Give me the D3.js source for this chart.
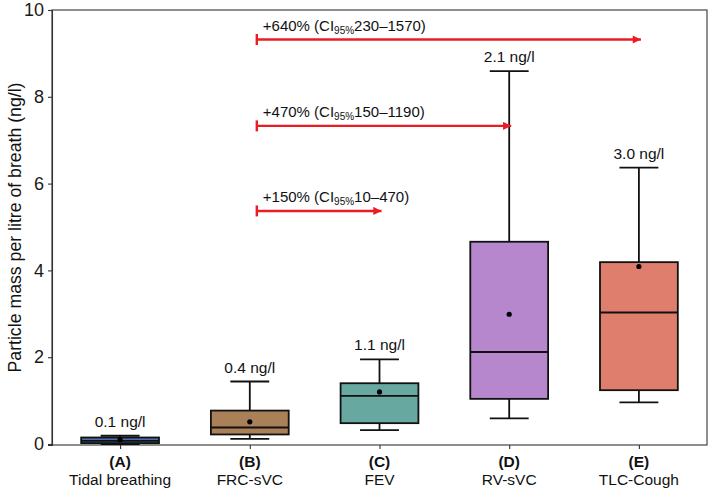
<!DOCTYPE html>
<html>
<head>
<meta charset="utf-8">
<script src="https://cdn.jsdelivr.net/npm/d3@7"></script>
<style>
  html, body { margin: 0; padding: 0; background: #fff; }
  svg { display: block; font-family: "Liberation Sans", Arial, sans-serif; }
</style>
</head>
<body>
<div id="chart"></div>
<script>
// ---- data ----
const categories = ["(A)", "(B)", "(C)", "(D)", "(E)"];
const categoryNames = ["Tidal breathing", "FRC-sVC", "FEV", "RV-sVC", "TLC-Cough"];
const whiskerLow = [0.00, 0.12, 0.32, 0.59, 0.96];
const q1 = [0.02, 0.22, 0.48, 1.04, 1.24];
const median = [0.07, 0.38, 1.11, 2.12, 3.03];
const q3 = [0.15, 0.77, 1.40, 4.66, 4.19];
const whiskerHigh = [0.19, 1.44, 1.95, 8.59, 6.37];
const means = [0.10, 0.51, 1.20, 2.99, 4.09];
const valueLabels = ["0.1 ng/l", "0.4 ng/l", "1.1 ng/l", "2.1 ng/l", "3.0 ng/l"];
const fills = ["#4a6ea8", "#a98057", "#67a9a1", "#b687cc", "#e07e6e"];
const yTicks = [0, 2, 4, 6, 8, 10];

const compFrom = 1;            // index of (B)
const compTo = [2, 3, 4];      // (C), (D), (E)
const compY = [5.37, 7.33, 9.32];
const compPct = ["+150%", "+470%", "+640%"];
const compCI = ["10\u2013470", "150\u20131190", "230\u20131570"];

// ---- layout ----
const W = 709, H = 491;
const pLeft = 52, pRight = 707, pTop = 10, pBottom = 445;

const svg = d3.select("#chart").append("svg")
  .attr("width", W).attr("height", H);

const x = d3.scaleLinear().domain([-0.525, categories.length - 1 + 0.525]).range([pLeft, pRight]);
const y = d3.scaleLinear().domain([-0.023, 10]).range([pBottom, pTop]);
const step = x(1) - x(0);
const boxW = step * 0.6;

// panel border
svg.append("rect")
  .attr("x", pLeft).attr("y", pTop)
  .attr("width", pRight - pLeft).attr("height", pBottom - pTop)
  .attr("fill", "none").attr("stroke", "#333").attr("stroke-width", 1.1);

// y axis
const yAxis = d3.axisLeft(y).tickValues(yTicks).tickSize(4).tickPadding(4).tickFormat(d3.format("d"));
const gy = svg.append("g").attr("transform", `translate(${pLeft},0)`).call(yAxis);
gy.select(".domain").attr("stroke", "#333").attr("stroke-width", 1.1);
gy.selectAll(".tick line").attr("stroke", "#333").attr("stroke-width", 1.1);
gy.selectAll(".tick text").attr("font-size", 18).attr("fill", "#1a1a1a")
  .attr("font-family", "Liberation Sans, Arial, sans-serif");

// x axis
const xAxis = d3.axisBottom(x).tickValues(d3.range(categories.length)).tickSize(4).tickFormat("");
const gx = svg.append("g").attr("transform", `translate(0,${pBottom})`).call(xAxis);
gx.select(".domain").remove();
gx.selectAll(".tick line").attr("stroke", "#333").attr("stroke-width", 1.1);

// x category labels
const xl = svg.append("g");
categories.forEach((c, i) => {
  xl.append("text").attr("x", x(i)).attr("y", 467)
    .attr("text-anchor", "middle").attr("font-size", 15.5).attr("font-weight", "bold")
    .attr("fill", "#111").text(c);
  xl.append("text").attr("x", x(i)).attr("y", 485)
    .attr("text-anchor", "middle").attr("font-size", 15.5)
    .attr("fill", "#111").text(categoryNames[i]);
});

// y title
svg.append("text")
  .attr("transform", `translate(21,${(pTop + pBottom) / 2}) rotate(-90)`)
  .attr("text-anchor", "middle").attr("font-size", 17.7).attr("fill", "#111")
  .text("Particle mass per litre of breath (ng/l)");

// boxes
const g = svg.append("g");
categories.forEach((c, i) => {
  const cx = x(i);
  g.append("line").attr("x1", cx).attr("x2", cx).attr("y1", y(q3[i])).attr("y2", y(whiskerHigh[i]))
    .attr("stroke", "#111").attr("stroke-width", 1.8);
  g.append("line").attr("x1", cx).attr("x2", cx).attr("y1", y(q1[i])).attr("y2", y(whiskerLow[i]))
    .attr("stroke", "#111").attr("stroke-width", 1.8);
  g.append("line").attr("x1", cx - boxW / 4).attr("x2", cx + boxW / 4)
    .attr("y1", y(whiskerHigh[i])).attr("y2", y(whiskerHigh[i]))
    .attr("stroke", "#111").attr("stroke-width", 1.8);
  g.append("line").attr("x1", cx - boxW / 4).attr("x2", cx + boxW / 4)
    .attr("y1", y(whiskerLow[i])).attr("y2", y(whiskerLow[i]))
    .attr("stroke", "#111").attr("stroke-width", 1.8);
  g.append("rect").attr("x", cx - boxW / 2).attr("width", boxW)
    .attr("y", y(q3[i])).attr("height", y(q1[i]) - y(q3[i]))
    .attr("fill", fills[i]).attr("stroke", "#111").attr("stroke-width", 1.8);
  g.append("line").attr("x1", cx - boxW / 2).attr("x2", cx + boxW / 2)
    .attr("y1", y(median[i])).attr("y2", y(median[i]))
    .attr("stroke", "#111").attr("stroke-width", 1.8);
  g.append("circle").attr("cx", cx).attr("cy", y(means[i])).attr("r", 2.6).attr("fill", "#000");
  g.append("text").attr("x", cx).attr("y", y(whiskerHigh[i]) - 9)
    .attr("text-anchor", "middle").attr("font-size", 15.5).attr("fill", "#111")
    .text(valueLabels[i]);
});

// comparison arrows
const red = "#ec1c24";
svg.append("defs").append("marker")
  .attr("id", "arrowhead").attr("viewBox", "0 0 10 10")
  .attr("refX", 10).attr("refY", 5)
  .attr("markerWidth", 4.2).attr("markerHeight", 3.4)
  .attr("markerUnits", "strokeWidth")
  .attr("orient", "auto")
  .append("path").attr("d", "M0,0 L10,5 L0,10 Z").attr("fill", red);

const ag = svg.append("g");
compTo.forEach((t, k) => {
  const x0 = x(compFrom + 0.054);
  const x1 = x(t) + 2;
  const yy = y(compY[k]);
  ag.append("line").attr("x1", x0).attr("x2", x1).attr("y1", yy).attr("y2", yy)
    .attr("stroke", red).attr("stroke-width", 2.4).attr("marker-end", "url(#arrowhead)");
  ag.append("line").attr("x1", x0).attr("x2", x0).attr("y1", yy - 5.5).attr("y2", yy + 5.5)
    .attr("stroke", red).attr("stroke-width", 2.4);
  const tx = ag.append("text").attr("x", x0 + 6).attr("y", yy - 9)
    .attr("font-size", 15).attr("fill", "#111");
  tx.append("tspan").text(compPct[k] + " (CI");
  tx.append("tspan").attr("font-size", 10).attr("dy", 3).text("95%");
  tx.append("tspan").attr("dy", -3).text(compCI[k] + ")");
});
</script>
</body>
</html>
